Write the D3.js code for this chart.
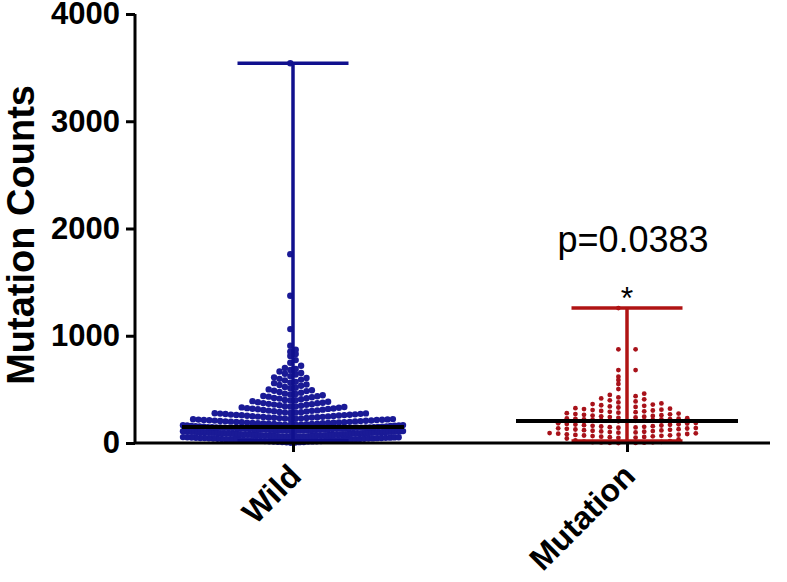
<!DOCTYPE html>
<html>
<head>
<meta charset="utf-8">
<script src="https://cdn.jsdelivr.net/npm/d3@7"></script>
<style>
  body { margin: 0; background: #fff; }
  svg { display: block; font-family: "Liberation Sans", Arial, sans-serif; }
</style>
</head>
<body>
<div id="chart"></div>
<script>
// groups on the x axis
const groups = ['Wild', 'Mutation'];

// mutation counts per sample
const wildCounts = [
  3, 5, 6, 8, 9, 10, 12, 13, 14, 15, 16, 17, 18, 19, 20, 21, 22, 23, 24, 26, 27, 28,
  29, 30, 31, 32, 33, 34, 35, 35, 36, 37, 38, 39, 40, 41, 42, 43, 44, 45, 46, 47, 47, 48,
  49, 50, 51, 52, 53, 54, 55, 56,
  57, 57, 58, 58, 59, 60, 61, 61, 62, 63, 64, 65, 65, 66, 66, 67, 68, 69, 70, 70, 71, 72,
  73, 74, 74, 75, 75, 76, 77, 78, 79, 79, 80, 80, 81, 82, 83, 84,
  85, 85, 86, 87, 88, 88, 89, 89, 90, 91, 91, 92, 93, 93, 94, 95, 95, 96, 97, 98, 98, 99,
  99, 100, 101, 102, 102, 103, 104, 104, 105, 105, 106, 107, 108, 108, 109, 110, 111, 112,
  113, 114, 115, 116, 117, 117, 118, 119, 120, 121, 122, 123, 124, 125, 126, 127, 128, 129,
  130, 131, 132, 133, 134, 135, 136, 137, 138, 139,
  140, 141, 142, 142, 143, 144, 145, 145, 146, 147, 147, 148,
  150, 151, 152, 154, 155, 157, 158, 160, 162, 163, 164, 165, 167,
  169, 170, 171, 173, 174, 175, 177, 178, 180, 181, 183, 184, 185, 186, 187, 189,
  190, 191, 193, 194, 196,
  197, 199, 200, 202, 204, 205, 207, 209, 210, 212, 214, 215, 217, 218, 220, 221, 223, 224,
  226, 228, 230, 232, 234, 236, 238, 238, 240, 242, 244, 246, 248, 250, 252,
  254, 257, 259, 260, 262, 263, 265, 267, 270, 272, 274, 276, 278, 280,
  283, 286, 287, 290, 294, 297, 300, 302, 304, 308, 311, 315, 318, 319, 322, 325, 328, 332, 335,
  339, 341, 343, 348, 352, 356, 358, 361, 365, 370, 372, 375, 380, 385, 390,
  396, 398, 402, 408, 414, 417, 420, 426, 432, 436, 438, 445,
  452, 458, 460, 468, 476, 484, 487, 492, 500,
  510, 515, 522, 534, 541, 546, 558,
  563, 570, 584, 591, 598, 606, 612,
  624, 638, 645, 652, 666,
  680, 690, 700, 720,
  748, 773, 811, 830, 851, 870,
  907, 1062, 1373, 1761, 3541
];

const mutationCounts = [
  0, 1, 2, 3, 5, 6, 8, 10, 13, 17, 24, 33, 42,
  48, 51, 54, 57, 59, 62, 65, 67, 70, 72, 75, 78, 81, 84, 87, 90, 93,
  96, 99, 102, 105, 108, 111, 114, 117, 120, 123, 126, 129, 132, 135, 137, 139,
  142, 145, 148, 151, 154, 157, 160, 163, 166, 169, 172, 175, 178, 181, 183, 186,
  203, 207, 209, 211, 213, 215, 217, 219, 221, 223, 225, 227, 229, 231,
  235, 238, 242, 245, 249, 252, 256, 259, 263, 267, 270, 274, 278,
  283, 287, 291, 295, 299, 303, 307, 311, 316, 320, 325,
  331, 336, 341, 347, 352, 358, 363, 369,
  378, 388, 398, 407, 416,
  425, 437, 448, 460,
  503, 550, 587, 618, 680, 680, 873, 873, 1258
];

const yTicks = [0, 1000, 2000, 3000, 4000];
const yTitle = 'Mutation Counts';
const pLabel = 'p=0.0383';
const sigMark = '*';

const width = 787;
const height = 582;
const colors = { Wild: '#10108e', Mutation: '#b01414' };
const dotColors = { Wild: '#1a1a96', Mutation: '#a8121a' };

const svg = d3.select('#chart').append('svg')
  .attr('width', width)
  .attr('height', height);

const y = d3.scaleLinear().domain([0, 4000]).range([443, 14]);
const x = d3.scalePoint().domain(groups).range([293, 627]);

// column scatter: values binned into rows, spread left/right,
// rows too wide for the column get squeezed
const layout = {
  Wild: { bin: 56, step: 5.4, first: 0.5, maxHalf: 110, r: 3.2 },
  Mutation: { bin: 47, step: 8.6, first: 1, maxHalf: 78, r: 2.4 }
};

function swarm(values, name) {
  const cfg = layout[name];
  const bins = d3.groups(values, (v) => Math.floor(v / cfg.bin));
  const pts = [];
  bins.forEach(([, vs]) => {
    const outer = Math.floor((vs.length - 1) / 2) + cfg.first;
    const step = Math.min(cfg.step, cfg.maxHalf / outer);
    vs.slice().sort(d3.ascending).forEach((v, i) => {
      const side = i % 2 === 0 ? -1 : 1;
      const k = Math.floor(i / 2) + cfg.first;
      pts.push({ v, dx: side * k * step });
    });
  });
  return pts;
}

const data = { Wild: wildCounts, Mutation: mutationCounts };

groups.forEach((name) => {
  const vals = data[name];
  const cx = x(name);
  const cfg = layout[name];

  svg.append('g')
    .selectAll('circle')
    .data(swarm(vals, name))
    .join('circle')
      .attr('cx', (d) => cx + d.dx)
      .attr('cy', (d) => y(d.v))
      .attr('r', cfg.r)
      .attr('fill', dotColors[name]);

  const lo = d3.min(vals);
  const hi = d3.max(vals);
  const med = d3.median(vals);

  const g = svg.append('g')
    .attr('stroke', colors[name])
    .attr('stroke-width', 3.5);

  g.append('line')
    .attr('x1', cx).attr('x2', cx)
    .attr('y1', y(lo)).attr('y2', y(hi));

  [lo, hi].forEach((v) => {
    g.append('line')
      .attr('x1', cx - 55.5).attr('x2', cx + 55.5)
      .attr('y1', y(v) - (v === lo ? 2 : 0)).attr('y2', y(v) - (v === lo ? 2 : 0));
  });

  svg.append('line')
    .attr('x1', cx - 111).attr('x2', cx + 111)
    .attr('y1', y(med)).attr('y2', y(med))
    .attr('stroke', '#000')
    .attr('stroke-width', 4);
});

// axes
const yAxis = svg.append('g')
  .attr('transform', 'translate(135,0)')
  .call(d3.axisLeft(y).tickValues(yTicks).tickSize(9).tickPadding(6).tickFormat(d3.format('d')));
yAxis.selectAll('path, line').attr('stroke', '#000').attr('stroke-width', 3);
yAxis.select('.domain').attr('d', `M0,${y(4000)}V${y(0)}`);
yAxis.selectAll('text')
  .attr('font-size', 31)
  .attr('font-weight', 'bold')
  .attr('font-family', '"Liberation Sans", Arial, sans-serif')
  .attr('fill', '#000');

const xAxis = svg.append('g')
  .attr('transform', `translate(0,${y(0)})`)
  .call(d3.axisBottom(x).tickSize(9).tickFormat(''));
xAxis.selectAll('path, line').attr('stroke', '#000').attr('stroke-width', 3);
xAxis.select('.domain').attr('d', 'M135,0H770');

svg.append('g')
  .selectAll('text')
  .data(groups)
  .join('text')
    .attr('transform', (d) => `translate(${x(d) + 10},478) rotate(-45)`)
    .attr('text-anchor', 'end')
    .attr('font-size', 32)
    .attr('font-weight', 'bold')
    .text((d) => d);

svg.append('text')
  .attr('transform', `translate(34,${y(1940)}) rotate(-90)`)
  .attr('text-anchor', 'middle')
  .attr('font-size', 38)
  .attr('font-weight', 'bold')
  .text(yTitle);

svg.append('text')
  .attr('x', x('Mutation') + 6)
  .attr('y', 252)
  .attr('text-anchor', 'middle')
  .attr('font-size', 36)
  .text(pLabel);

svg.append('text')
  .attr('x', x('Mutation'))
  .attr('y', y(d3.max(mutationCounts)) + 1)
  .attr('text-anchor', 'middle')
  .attr('font-size', 32)
  .text(sigMark);
</script>
</body>
</html>
